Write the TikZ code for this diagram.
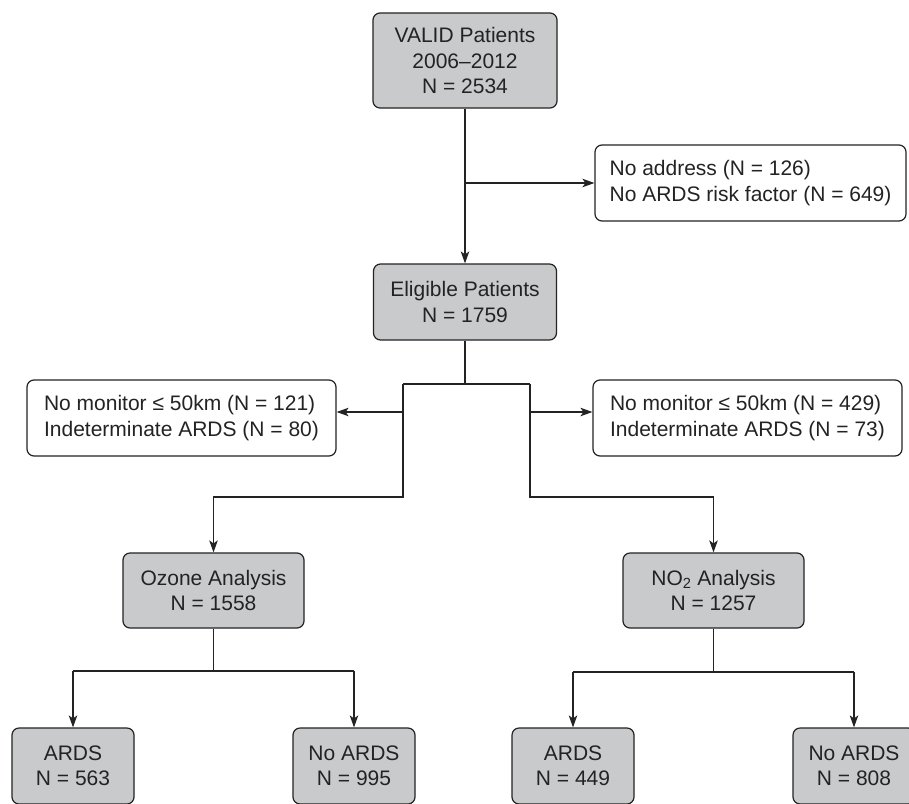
\documentclass[tikz,border=0pt]{standalone}
\usepackage{fontspec}
\setmainfont{Liberation Sans}
\usetikzlibrary{arrows.meta}
\definecolor{boxgray}{RGB}{201,202,204}
\definecolor{ink}{RGB}{35,35,35}
\tikzset{
  base/.style={draw=ink, line width=1.2pt, rounded corners=7pt, inner sep=0pt,
    font=\fontsize{21}{25.5}\selectfont, text=ink},
  graybox/.style={base, fill=boxgray, align=center},
  whitebox/.style={base, fill=white, align=left},
  conn/.style={draw=ink, line width=1.2pt},
  arr/.style={conn, -{Stealth[length=12pt,width=8.5pt,inset=3pt]}}
}
\begin{document}
\begin{tikzpicture}[x=1pt,y=-1pt]
\useasboundingbox (0,0) rectangle (909,803);
\clip (0,0) rectangle (909,803);
\fill[white] (0,0) rectangle (909,803);

\node[graybox, minimum width=184pt, minimum height=95pt] (top) at (465,60.5)
  {VALID Patients\\2006–2012\\N = 2534};
\node[whitebox, minimum width=311pt, minimum height=76pt] (exc1) at (750.5,183)
  {No address (N = 126)\\No ARDS risk factor (N = 649)};
\node[graybox, minimum width=183pt, minimum height=76pt] (elig) at (465,302)
  {Eligible Patients\\N = 1759};
\node[whitebox, minimum width=309pt, minimum height=76pt] (excL) at (181.5,418)
  {No monitor ≤ 50km (N = 121)\\Indeterminate ARDS (N = 80)};
\node[whitebox, minimum width=309pt, minimum height=76pt] (excR) at (747.5,418)
  {No monitor ≤ 50km (N = 429)\\Indeterminate ARDS (N = 73)};
\node[graybox, minimum width=181pt, minimum height=75pt] (ozone) at (213.5,590.5)
  {Ozone Analysis\\N = 1558};
\node[graybox, minimum width=181pt, minimum height=75pt] (no2) at (713.5,590.5)
  {NO\textsubscript{2} Analysis\\N = 1257};
\node[graybox, minimum width=122pt, minimum height=76pt] (a1) at (73,766)
  {ARDS\\N = 563};
\node[graybox, minimum width=122pt, minimum height=76pt] (n1) at (354,766)
  {No ARDS\\N = 995};
\node[graybox, minimum width=122pt, minimum height=76pt] (a2) at (573,766)
  {ARDS\\N = 449};
\node[graybox, minimum width=122pt, minimum height=76pt] (n2) at (854,766)
  {No ARDS\\N = 808};

% top to eligible
\coordinate (b1) at (465,183);
\draw[arr] (top.south) -- (elig.north);
\draw[arr] (b1) -- (exc1.west);

% eligible split
\coordinate (j0) at (465,384);
\coordinate (jL) at (403,384);
\coordinate (jR) at (530,384);
\coordinate (bL) at (403,412);
\coordinate (bR) at (530,412);
\coordinate (dL) at (403,497);
\coordinate (dR) at (530,497);
\draw[conn] (elig.south) -- (j0);
\draw[conn] (jL) -- (jR);
\draw[arr] (jL) -- (dL) -| (ozone.north);
\draw[arr] (jR) -- (dR) -| (no2.north);
\draw[arr] (bL) -- (bL -| excL.east);
\draw[arr] (bR) -- (bR -| excR.west);

% ozone split
\coordinate (oz) at (213.5,671);
\coordinate (ozL) at (73,671);
\coordinate (ozR) at (354,671);
\draw[conn] (ozone.south) -- (oz);
\draw[conn] (ozL) -- (ozR);
\draw[arr] (ozL) -- (a1.north);
\draw[arr] (ozR) -- (n1.north);

% no2 split
\coordinate (nz) at (713.5,672);
\coordinate (nzL) at (573,672);
\coordinate (nzR) at (854,672);
\draw[conn] (no2.south) -- (nz);
\draw[conn] (nzL) -- (nzR);
\draw[arr] (nzL) -- (a2.north);
\draw[arr] (nzR) -- (n2.north);
\end{tikzpicture}
\end{document}
